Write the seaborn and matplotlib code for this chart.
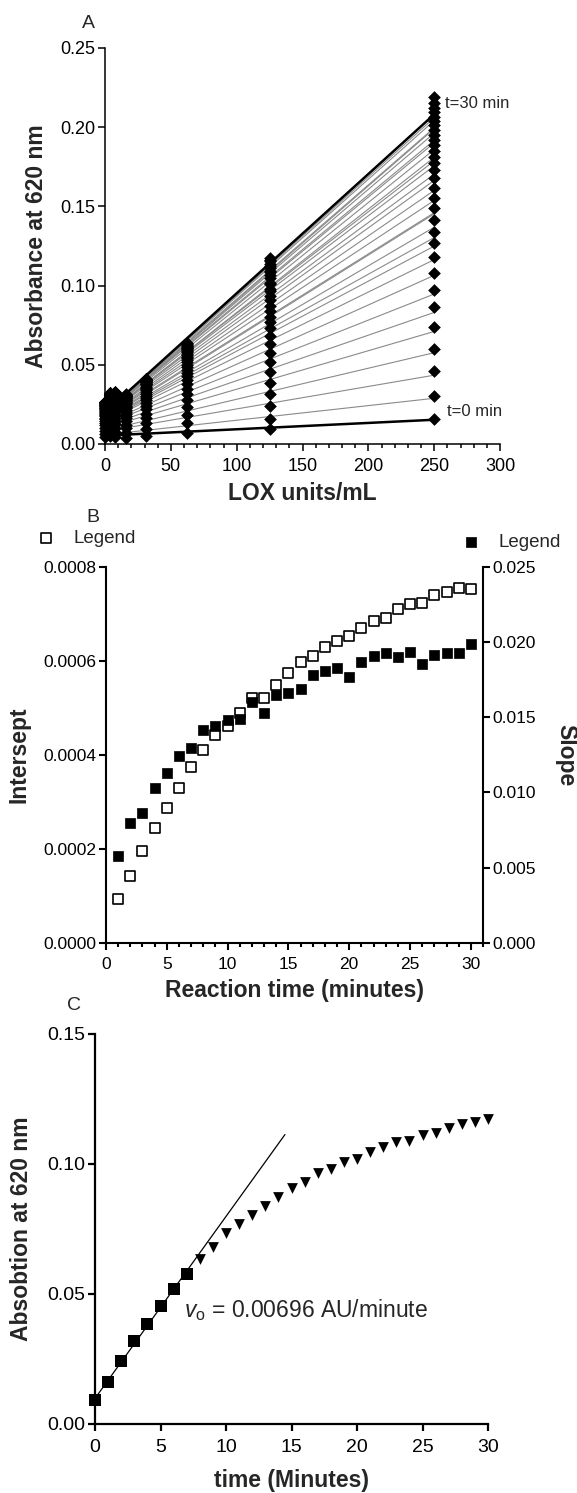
import numpy as np
import pandas as pd
import matplotlib
matplotlib.use("Agg")
import matplotlib.pyplot as plt
import seaborn as sns
from matplotlib.ticker import MultipleLocator, FormatStrFormatter

# ---------------- Panel A data ----------------
lox_units = [0, 3.9, 7.8, 15.6, 31.25, 62.5, 125, 250]
times_a = list(range(31))
abs_u0 = [0.0045, 0.0062, 0.0085, 0.0102, 0.0118, 0.0132, 0.0145, 0.0157, 0.0167, 0.0176, 0.0184,
          0.0191, 0.0198, 0.0204, 0.0210, 0.0215, 0.0220, 0.0225, 0.0229, 0.0233, 0.0237, 0.0241,
          0.0244, 0.0247, 0.0250, 0.0253, 0.0256, 0.0259, 0.0262, 0.0265, 0.0268]
abs_u4 = [0.0050, 0.0078, 0.0103, 0.0125, 0.0145, 0.0163, 0.0179, 0.0194, 0.0207, 0.0219, 0.0230,
          0.0240, 0.0249, 0.0257, 0.0265, 0.0272, 0.0278, 0.0284, 0.0289, 0.0294, 0.0298, 0.0302,
          0.0306, 0.0309, 0.0312, 0.0315, 0.0317, 0.0319, 0.0321, 0.0323, 0.0325]
abs_u8 = [0.0045, 0.0076, 0.0103, 0.0127, 0.0148, 0.0167, 0.0184, 0.0199, 0.0212, 0.0224, 0.0235,
          0.0245, 0.0254, 0.0262, 0.0270, 0.0277, 0.0283, 0.0289, 0.0294, 0.0299, 0.0303, 0.0307,
          0.0311, 0.0314, 0.0317, 0.0320, 0.0323, 0.0325, 0.0327, 0.0329, 0.0331]
abs_u16 = [0.0040, 0.0072, 0.0099, 0.0123, 0.0144, 0.0162, 0.0178, 0.0192, 0.0205, 0.0216, 0.0226,
           0.0235, 0.0243, 0.0251, 0.0258, 0.0264, 0.0270, 0.0275, 0.0280, 0.0284, 0.0288, 0.0292,
           0.0295, 0.0298, 0.0301, 0.0304, 0.0306, 0.0308, 0.0310, 0.0312, 0.0314]
abs_u31 = [0.0050, 0.0092, 0.0130, 0.0163, 0.0192, 0.0218, 0.0240, 0.0260, 0.0277, 0.0292, 0.0306,
           0.0318, 0.0329, 0.0339, 0.0348, 0.0356, 0.0363, 0.0370, 0.0376, 0.0381, 0.0386, 0.0390,
           0.0394, 0.0397, 0.0400, 0.0403, 0.0405, 0.0407, 0.0409, 0.0411, 0.0413]
abs_u62 = [0.0071, 0.0130, 0.0186, 0.0235, 0.0278, 0.0316, 0.0350, 0.0380, 0.0406, 0.0429, 0.0450,
           0.0469, 0.0486, 0.0501, 0.0515, 0.0528, 0.0540, 0.0551, 0.0561, 0.0570, 0.0578, 0.0585,
           0.0592, 0.0598, 0.0604, 0.0609, 0.0614, 0.0619, 0.0624, 0.0629, 0.0636]
abs_u250 = [0.0158, 0.0303, 0.0461, 0.0598, 0.0738, 0.0862, 0.0972, 0.1082, 0.1183, 0.1267, 0.1340,
            0.1414, 0.1488, 0.1551, 0.1614, 0.1677, 0.1730, 0.1772, 0.1814, 0.1852, 0.1888, 0.1919,
            0.1951, 0.1982, 0.2014, 0.2041, 0.2066, 0.2094, 0.2119, 0.2151, 0.2189]

# ---------------- Panel B data ----------------
b_time = list(range(1, 31))
b_open = [0.0000923, 0.000142, 0.000196, 0.000243, 0.000287, 0.000329, 0.000374, 0.000409, 0.000442,
          0.000462, 0.000488, 0.000520, 0.000520, 0.000549, 0.000574, 0.000598, 0.000610, 0.000630,
          0.000642, 0.000653, 0.000669, 0.000684, 0.000690, 0.000709, 0.000721, 0.000722, 0.000740,
          0.000747, 0.000755, 0.000753]
b_filled = [0.00578, 0.00794, 0.00864, 0.01029, 0.0113, 0.01241, 0.01297, 0.01414, 0.01441, 0.01479,
            0.01487, 0.0160, 0.01529, 0.01647, 0.01658, 0.01687, 0.0178, 0.01809, 0.01824, 0.01769,
            0.01864, 0.01908, 0.01924, 0.01898, 0.01935, 0.01851, 0.01913, 0.01924, 0.01928, 0.01984]
t0_slope = 0.00004
t0_intercept = 0.0053

# ---------------- Panel C data ----------------
c_time = list(range(31))
c_abs = [0.0094, 0.0160, 0.0241, 0.0318, 0.0385, 0.0453, 0.0519, 0.0577, 0.0633, 0.0682, 0.0733,
         0.0769, 0.0804, 0.0840, 0.0874, 0.0906, 0.0932, 0.0964, 0.0981, 0.1009, 0.1019, 0.1047,
         0.1067, 0.1086, 0.1090, 0.1112, 0.1121, 0.1137, 0.1153, 0.1160, 0.1172]
c_n_initial = 8          # points used for the initial-rate fit
c_fit_end = 14.5
v0_text = r"$\mathit{v}_{\mathrm{o}}$ = 0.00696 AU/minute"

# ---------------- style ----------------
sns.set_style("ticks")
plt.rcParams['font.family'] = ['Liberation Sans', 'DejaVu Sans']
plt.rcParams['mathtext.fontset'] = 'custom'
plt.rcParams['mathtext.rm'] = 'Liberation Sans'
plt.rcParams['mathtext.it'] = 'Liberation Sans:italic'
plt.rcParams['axes.edgecolor'] = 'black'
plt.rcParams['xtick.color'] = 'black'
plt.rcParams['ytick.color'] = 'black'

W, H = 577, 1493
fig = plt.figure(figsize=(W / 100, H / 100), dpi=100)


def box(l, r, top, bottom):
    return [l / W, 1 - bottom / H, (r - l) / W, (bottom - top) / H]


def style_axis(ax, lw, fs, major_len=5, minor_len=3, xpad=4, ypad=2):
    for s in ['top', 'right']:
        ax.spines[s].set_visible(False)
    for s in ['left', 'bottom']:
        ax.spines[s].set_linewidth(lw)
        ax.spines[s].set_color('black')
    ax.tick_params(which='major', length=major_len, width=lw, labelsize=fs, direction='out')
    ax.tick_params(axis='x', which='major', pad=xpad)
    ax.tick_params(axis='y', which='major', pad=ypad)
    ax.tick_params(which='minor', length=minor_len, width=lw, direction='out')


# ---------------- Panel A ----------------
axA = fig.add_axes(box(105, 500, 48, 444))
slopes = [t0_slope] + b_open
intercepts = [t0_intercept] + b_filled
rows = []
for t, s, i in zip(times_a, slopes, intercepts):
    for x in (0, 250):
        rows.append({'t': t, 'x': x, 'y': i + s * x})
lines_df = pd.DataFrame(rows)
gray_df = lines_df[(lines_df.t != 0) & (lines_df.t != 30)]
black_df = lines_df[(lines_df.t == 0) | (lines_df.t == 30)]
sns.lineplot(data=gray_df, x='x', y='y', units='t', estimator=None, color='#8a8a8a', lw=0.8, ax=axA)
sns.lineplot(data=black_df, x='x', y='y', units='t', estimator=None, color='black', lw=1.8, ax=axA)

cols = [abs_u0, abs_u4, abs_u8, abs_u16, abs_u31, abs_u62, c_abs, abs_u250]
pts = []
for u, col in zip(lox_units, cols):
    for t, v in zip(times_a, col):
        pts.append({'x': u, 'y': v, 't': t})
pts_df = pd.DataFrame(pts)
sns.scatterplot(data=pts_df, x='x', y='y', marker='D', color='black', s=42, linewidth=0,
                clip_on=False, zorder=4, ax=axA, legend=False)
axA.set_xlim(0, 300)
axA.set_ylim(0, 0.25)
axA.xaxis.set_major_locator(MultipleLocator(50))
axA.xaxis.set_minor_locator(MultipleLocator(10))
axA.yaxis.set_major_locator(MultipleLocator(0.05))
axA.yaxis.set_major_formatter(FormatStrFormatter('%.2f'))
style_axis(axA, 1.1, 13, xpad=5)
axA.set_xlabel('LOX units/mL', fontsize=16.5, fontweight='bold')
axA.set_ylabel('Absorbance at 620 nm', fontsize=16.5, fontweight='bold')
axA.xaxis.label.set_va('center')
axA.yaxis.label.set_va('center')
axA.xaxis.set_label_coords(0.5, (444 - 494) / 396)
axA.yaxis.set_label_coords((37 - 105) / 395, 0.5)
fig.text(445 / W, 1 - 103 / H, 't=30 min', fontsize=12, ha='left', va='center')
fig.text(447 / W, 1 - 412 / H, 't=0 min', fontsize=12, ha='left', va='center')
fig.text(88 / W, 1 - 24 / H, 'A', fontsize=14, ha='center', va='center')

# ---------------- Panel B ----------------
axB = fig.add_axes(box(106, 483, 566.7, 942.7))
axB2 = axB.twinx()
bdf = pd.DataFrame({'t': b_time, 'open': b_open, 'filled': b_filled})
sns.scatterplot(data=bdf, x='t', y='open', marker='s', color='white', edgecolor='black',
                linewidth=1.2, s=52, ax=axB, label='Legend', clip_on=False)
sns.scatterplot(data=bdf, x='t', y='filled', marker='s', color='black', edgecolor='black',
                linewidth=0.5, s=52, ax=axB2, label='Legend', clip_on=False)
axB.set_xlim(0, 31)
axB.set_ylim(0, 0.0008)
axB2.set_ylim(0, 0.025)
axB.xaxis.set_major_locator(MultipleLocator(5))
axB.xaxis.set_minor_locator(MultipleLocator(1))
axB.yaxis.set_major_locator(MultipleLocator(0.0002))
axB.yaxis.set_major_formatter(FormatStrFormatter('%.4f'))
axB2.yaxis.set_major_locator(MultipleLocator(0.005))
axB2.yaxis.set_major_formatter(FormatStrFormatter('%.3f'))
style_axis(axB, 1.5, 12.5, major_len=5, minor_len=3, xpad=5)
axB2.spines['top'].set_visible(False)
axB2.spines['left'].set_visible(False)
axB2.spines['bottom'].set_visible(False)
axB2.spines['right'].set_linewidth(1.5)
axB2.spines['right'].set_color('black')
axB2.tick_params(which='major', length=5, width=1.5, labelsize=12.5, direction='out', pad=2)
axB.set_xlabel('Reaction time (minutes)', fontsize=16.5, fontweight='bold')
axB.set_ylabel('Intersept', fontsize=16.5, fontweight='bold')
axB2.set_ylabel('Slope', fontsize=16.5, fontweight='bold', rotation=270)
axB.xaxis.label.set_va('center')
axB.yaxis.label.set_va('center')
axB2.yaxis.label.set_va('center')
axB.xaxis.set_label_coords(0.5, (942.7 - 990) / 376)
axB.yaxis.set_label_coords((19 - 106) / 377, 0.5)
axB2.yaxis.set_label_coords((566 - 106) / 377, 0.5)
lfs = 13.5
em = lfs * 100 / 72
axB.legend(loc='center left', bbox_to_anchor=((45.7 - em / 2) / W, 1 - 538 / H),
           bbox_transform=fig.transFigure, frameon=False, borderpad=0, borderaxespad=0,
           handlelength=1, handletextpad=0.96, fontsize=lfs)
axB2.legend(loc='center left', bbox_to_anchor=((471 - em / 2) / W, 1 - 542.5 / H),
            bbox_transform=fig.transFigure, frameon=False, borderpad=0, borderaxespad=0,
            handlelength=1, handletextpad=0.94, fontsize=lfs)
fig.text(93 / W, 1 - 517 / H, 'B', fontsize=14, ha='center', va='center')

# ---------------- Panel C ----------------
axC = fig.add_axes(box(95, 488, 1034, 1424))
cdf = pd.DataFrame({'t': c_time, 'a': c_abs})
init = cdf.iloc[:c_n_initial]
late = cdf.iloc[c_n_initial:]
slope_c, icpt_c = np.polyfit(init.t, init.a, 1)
fit_df = pd.DataFrame({'t': [0, c_fit_end]})
fit_df['a'] = icpt_c + slope_c * fit_df['t']
sns.lineplot(data=fit_df, x='t', y='a', color='black', lw=0.9, ax=axC)
sns.scatterplot(data=init, x='t', y='a', marker='s', color='black', s=64, linewidth=0,
                clip_on=False, zorder=4, ax=axC, legend=False)
sns.scatterplot(data=late, x='t', y='a', marker='v', color='black', s=60, linewidth=0,
                clip_on=False, zorder=4, ax=axC, legend=False)
axC.set_xlim(0, 30)
axC.set_ylim(0, 0.15)
axC.xaxis.set_major_locator(MultipleLocator(5))
axC.yaxis.set_major_locator(MultipleLocator(0.05))
axC.yaxis.set_major_formatter(FormatStrFormatter('%.2f'))
style_axis(axC, 1.6, 14, major_len=5, xpad=6)
axC.set_xlabel('time (Minutes)', fontsize=16.5, fontweight='bold')
axC.set_ylabel('Absobtion at 620 nm', fontsize=16.5, fontweight='bold')
axC.xaxis.label.set_va('center')
axC.yaxis.label.set_va('center')
axC.xaxis.set_label_coords(0.5, (1424 - 1480) / 390)
axC.yaxis.set_label_coords((22 - 95) / 393, 0.5)
axC.text(6.8, 0.0437, v0_text, fontsize=16.5, ha='left', va='center')
fig.text(74 / W, 1 - 1005 / H, 'C', fontsize=14, ha='center', va='center')

fig.savefig('out.png', dpi=100)
